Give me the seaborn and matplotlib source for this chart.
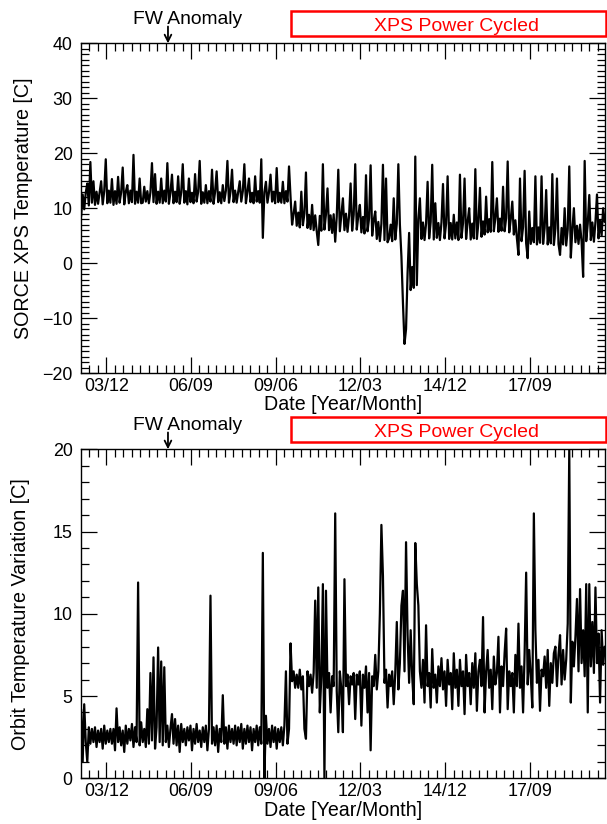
import matplotlib
matplotlib.use("Agg")
import matplotlib.pyplot as plt
import matplotlib.transforms as mtransforms
from matplotlib.patches import Rectangle
from matplotlib.ticker import FixedLocator, MultipleLocator
import numpy as np
import pandas as pd
import seaborn as sns

# samples every 0.05 yr starting 2003.10 (one row = one year)
t_start = 2003.10
t_step = 0.05

xps_temp = [
    8.5, 12.5, 9.8, 12.8, 14.5, 10.5, 18.4, 11.0, 14.9, 10.6, 13.0, 10.8, 12.9, 14.9, 10.7, 13.1, 18.9, 10.9, 13.2, 11.0,
    15.3, 10.6, 13.1, 10.8, 15.7, 11.0, 12.9, 17.4, 10.7, 13.0, 14.2, 10.9, 13.2, 11.1, 19.7, 10.8, 13.0, 11.0, 15.4, 10.9,
    11.0, 13.9, 11.2, 13.1, 10.9, 12.9, 18.2, 11.1, 16.2, 10.8, 13.0, 11.0, 15.4, 10.9, 13.2, 11.2, 18.2, 10.8, 12.8, 16.1,
    10.9, 13.0, 11.1, 15.8, 10.8, 12.9, 18.0, 11.0, 13.1, 10.7, 15.4, 11.1, 12.8, 10.9, 16.2, 11.2, 13.0, 18.6, 10.8, 12.9,
    11.0, 14.2, 10.9, 13.1, 11.2, 17.0, 10.8, 13.0, 16.7, 11.1, 12.9, 10.9, 14.2, 11.3, 13.2, 18.6, 11.0, 13.0, 17.0, 11.1,
    13.2, 11.0, 12.9, 14.9, 11.2, 13.1, 18.0, 10.9, 13.0, 15.4, 11.1, 12.8, 10.9, 15.8, 11.2, 13.1, 11.0, 18.9, 4.6, 12.9,
    14.8, 11.0, 12.9, 16.1, 11.2, 13.0, 10.9, 17.3, 11.1, 12.8, 11.0, 14.8, 10.9, 13.1, 11.2, 17.6, 12.0, 7.0, 9.0, 11.2,
    6.8, 9.2, 6.5, 13.0, 6.9, 9.0, 16.5, 6.4, 8.8, 6.2, 10.6, 6.0, 8.7, 5.8, 3.3, 8.6, 5.9, 18.0, 6.1, 8.9,
    13.6, 6.0, 8.7, 5.5, 8.9, 3.9, 8.5, 17.0, 5.8, 8.8, 11.8, 6.0, 9.0, 5.7, 8.6, 14.5, 5.9, 8.8, 18.0, 6.1,
    8.6, 10.6, 5.6, 8.4, 5.4, 16.0, 5.8, 8.2, 17.8, 5.0, 7.8, 9.4, 4.4, 7.5, 4.0, 7.2, 17.9, 4.2, 15.4, 3.8,
    4.5, 7.0, 4.0, 11.8, 4.3, 7.2, 18.0, 7.0, 1.2, -7.3, -14.7, -12.0, -1.8, 5.5, -4.9, -0.7, -4.5, 19.4, -4.0, 8.0,
    11.8, 4.4, 7.4, 4.2, 7.2, 14.8, 4.5, 7.5, 17.9, 4.3, 10.9, 4.6, 7.3, 4.2, 7.4, 14.4, 4.5, 7.2, 15.8, 4.4,
    7.3, 4.3, 8.8, 4.5, 7.4, 4.2, 16.1, 4.6, 7.3, 15.4, 4.4, 7.5, 10.0, 4.3, 7.2, 4.5, 17.1, 4.4, 7.4, 13.7,
    4.8, 7.6, 5.2, 12.1, 5.6, 8.0, 5.7, 18.4, 5.8, 8.2, 11.8, 5.7, 8.1, 5.9, 13.9, 5.8, 8.2, 18.5, 5.6, 8.0,
    11.2, 5.2, 7.8, 4.5, 1.5, 15.4, 4.0, 6.6, 16.8, 3.6, 0.9, 9.4, 3.5, 6.4, 3.8, 15.8, 3.4, 6.5, 3.7, 15.8,
    3.5, 6.4, 13.3, 3.4, 6.5, 3.6, 16.2, 3.3, 6.3, 15.4, 3.5, 1.5, 6.4, 3.4, 10.0, 3.2, 6.2, 17.6, 1.0, 6.1,
    10.0, 3.8, 6.8, 3.5, 7.0, 3.9, -2.5, 18.6, 4.0, 7.2, 12.4, 4.2, 7.4, 3.9, 7.5, 12.5, 4.5, 7.8, 5.0, 10.0,
    7.5,
]

orbit_var = [
    4.2, 1.0, 4.5, 2.2, 1.0, 3.1, 2.1, 3.0, 2.2, 3.1, 1.9, 2.9, 2.2, 3.0, 1.8, 3.2, 2.1, 2.9, 2.2, 3.0,
    2.1, 3.0, 1.7, 4.25, 2.2, 3.1, 2.0, 2.9, 1.6, 3.2, 2.1, 3.0, 2.3, 3.3, 1.9, 3.1, 2.2, 11.9, 2.0, 3.4,
    2.2, 3.0, 1.9, 4.2, 2.1, 6.4, 2.3, 7.35, 1.8, 3.1, 7.95, 2.2, 7.1, 2.0, 6.75, 2.2, 3.2, 1.9, 3.0, 3.9,
    2.1, 3.6, 2.0, 3.2, 1.6, 3.3, 2.2, 3.0, 2.0, 3.1, 2.3, 3.2, 1.7, 3.0, 2.1, 3.3, 2.2, 2.9, 1.9, 3.1,
    2.2, 3.2, 1.7, 3.0, 11.1, 2.1, 3.1, 2.0, 3.2, 1.6, 3.0, 2.2, 5.05, 2.1, 3.1, 1.8, 3.2, 2.2, 3.0, 2.1,
    3.2, 2.0, 3.1, 2.2, 3.3, 1.8, 3.0, 2.1, 3.2, 2.2, 3.1, 1.7, 3.0, 2.2, 3.2, 2.0, 3.1, 2.1, 13.7, 0.0,
    3.8, 2.1, 3.0, 1.9, 3.2, 2.2, 3.1, 1.8, 3.0, 2.2, 3.1, 2.0, 3.2, 6.5, 2.1, 3.0, 8.2, 5.9, 6.5, 5.5,
    6.3, 5.5, 6.6, 5.4, 6.2, 3.0, 2.4, 6.5, 5.6, 6.3, 5.2, 6.4, 10.8, 5.5, 11.6, 4.0, 6.2, 11.8, 0.0, 11.4,
    5.5, 6.4, 4.0, 6.2, 5.6, 16.1, 5.3, 2.8, 6.5, 5.4, 2.8, 12.1, 5.6, 6.3, 4.5, 6.2, 5.7, 6.4, 3.6, 6.3,
    5.7, 6.5, 3.2, 6.3, 5.5, 6.8, 4.0, 6.4, 1.7, 6.2, 5.6, 7.5, 5.4, 6.5, 10.0, 15.4, 12.3, 5.8, 6.6, 4.3,
    6.3, 5.6, 6.5, 4.5, 6.4, 9.5, 5.4, 7.0, 10.5, 11.4, 6.5, 14.35, 8.7, 5.8, 9.0, 6.2, 4.5, 14.3, 11.8, 10.5,
    6.5, 5.5, 7.2, 4.6, 9.3, 5.6, 6.4, 4.3, 7.85, 5.5, 6.3, 4.6, 6.8, 5.6, 7.3, 5.4, 6.5, 4.4, 7.2, 5.7,
    6.4, 4.2, 7.6, 5.5, 6.6, 4.4, 7.2, 5.6, 6.5, 3.9, 7.5, 5.6, 6.4, 4.5, 7.0, 5.5, 7.6, 4.1, 6.5, 7.2,
    5.6, 9.8, 4.0, 6.5, 7.8, 5.5, 6.6, 4.2, 7.4, 5.7, 6.4, 8.6, 4.0, 6.8, 5.6, 7.6, 9.1, 4.2, 6.5, 5.6,
    6.4, 4.0, 7.5, 5.6, 9.4, 5.5, 6.8, 4.0, 7.6, 12.5, 5.7, 7.8, 6.2, 4.3, 16.1, 9.0, 5.8, 7.2, 4.1, 6.6,
    6.2, 7.4, 5.5, 7.8, 4.4, 7.0, 5.8, 7.6, 8.0, 5.6, 7.5, 8.7, 5.7, 7.8, 6.0, 7.2, 9.4, 20.0, 4.6, 8.3,
    6.8, 8.6, 10.9, 6.5, 11.5, 7.0, 9.0, 6.2, 11.8, 4.0, 11.8, 6.8, 9.5, 6.4, 11.6, 7.0, 8.8, 4.6, 9.0, 6.9,
    8.0,
]

tick_years = [2003.917, 2006.667, 2009.417, 2012.167, 2014.917, 2017.667]
tick_labels = ["03/12", "06/09", "09/06", "12/03", "14/12", "17/09"]
x_range = (2003.095, 2020.11)

fw_anomaly = 2005.92
power_cycled = 2009.92

years = np.round(t_start + t_step * np.arange(len(xps_temp)), 3)
df = pd.DataFrame({"year": years, "temp": xps_temp, "orbit": orbit_var})

sns.set_theme(style="ticks")
plt.rcParams["font.family"] = ["Liberation Sans", "DejaVu Sans"]
plt.rcParams["axes.linewidth"] = 1.0
plt.rcParams["text.color"] = "black"
plt.rcParams["axes.labelcolor"] = "black"

fig = plt.figure(figsize=(6.07, 8.24), dpi=100)
ax1 = fig.add_axes([0.1334, 0.5473, 0.8633, 0.4001])
ax2 = fig.add_axes([0.1334, 0.0555, 0.8633, 0.3993])


def style_axes(ax, col, ylim, ymajor, ylabel, ylab_x):
    sns.lineplot(data=df, x="year", y=col, ax=ax, color="black",
                 lw=1.6, estimator=None)
    ax.set_xlim(*x_range)
    ax.set_ylim(*ylim)
    ax.xaxis.set_major_locator(FixedLocator(tick_years))
    ax.set_xticklabels(tick_labels)
    minor = np.arange(tick_years[0] - 3 * 0.275, x_range[1], 0.275)
    ax.xaxis.set_minor_locator(FixedLocator(minor))
    ax.yaxis.set_major_locator(MultipleLocator(ymajor))
    ax.yaxis.set_minor_locator(MultipleLocator(1))
    ax.tick_params(which="both", direction="in", top=True, right=True,
                   colors="black", labelcolor="black", width=0.9,
                   labelsize=12.9)
    ax.tick_params(which="major", length=11.5)
    ax.tick_params(which="minor", length=6)
    ax.tick_params(axis="x", pad=3.4)
    ax.tick_params(axis="y", pad=6)
    for s in ax.spines.values():
        s.set_color("black")
    ax.set_xlabel("Date [Year/Month]", fontsize=14.1, labelpad=0.5,
                  color="black")
    ax.set_ylabel(ylabel, fontsize=14.2, color="black")
    ax.yaxis.set_label_coords(ylab_x, 0.5)

    trans = mtransforms.blended_transform_factory(ax.transData, ax.transAxes)
    ax.annotate("", xy=(fw_anomaly, 1.0), xytext=(fw_anomaly, 1.051),
                xycoords=trans, textcoords=trans,
                arrowprops=dict(arrowstyle="->", lw=1.3, color="black",
                                shrinkA=0, shrinkB=0),
                annotation_clip=False)
    ax.text(2004.775, 1.059, "FW Anomaly", transform=trans, ha="left",
            va="baseline", fontsize=13.9, color="black")
    box = Rectangle((power_cycled, 1.023), 2020.14 - power_cycled, 0.076,
                    transform=trans, fill=False, ec="red", lw=1.8,
                    clip_on=False)
    ax.add_patch(box)
    ax.text(2015.30, 1.0375, "XPS Power Cycled",
            transform=trans, ha="center", va="baseline", fontsize=14.0,
            color="red")


style_axes(ax1, "temp", (-20, 40), 10, "SORCE XPS Temperature [C]", -0.091)
style_axes(ax2, "orbit", (0, 20), 5, "Orbit Temperature Variation [C]", -0.097)

fig.savefig("out.png", dpi=100)
